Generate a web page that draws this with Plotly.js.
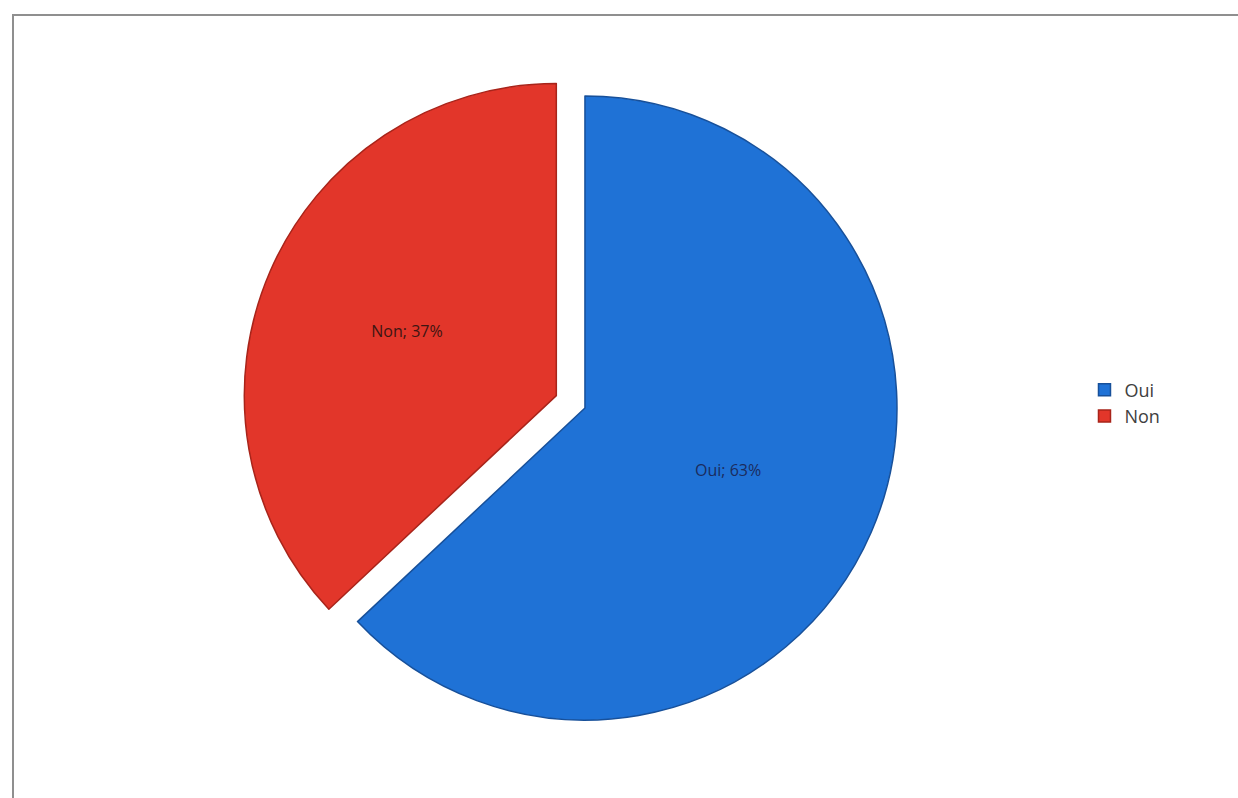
<!DOCTYPE html>
<html>
<head>
<meta charset="utf-8">
<script src="https://cdn.plot.ly/plotly-3.0.1.min.js"></script>
<style>
  html, body { margin: 0; padding: 0; background: #ffffff; overflow: hidden; }
  #frame { position: absolute; left: 12px; top: 14px; width: 1240px; height: 800px;
           border-left: 2px solid #8f8f8f; border-top: 2px solid #8f8f8f; }
  #chart { position: absolute; left: 0; top: 0; width: 1238px; height: 798px; }
</style>
</head>
<body>
<div id="frame"></div>
<div id="chart"></div>
<script>
// Data
const labels = ['Oui', 'Non'];
const values = [63, 37];
const texts = ['Oui; 63%', 'Non; 37%'];
const colors = ['#1f72d6', '#e2362a'];
const edgeColors = ['#17509a', '#a8241a'];
const pulls = [0, 0.1];
const textColors = ['#1b2c5e', '#3d1512'];

const trace = {
  type: 'pie',
  labels: labels,
  values: values,
  text: texts,
  textinfo: 'text',
  textposition: 'inside',
  insidetextorientation: 'horizontal',
  insidetextfont: { family: 'Open Sans, Liberation Sans, sans-serif', size: 16, color: textColors },
  sort: false,
  direction: 'clockwise',
  rotation: 0,
  pull: pulls,
  marker: { colors: colors, line: { color: edgeColors, width: 1.5 } },
  domain: { x: [0.1952, 0.7498], y: [0.0586, 0.9188] },
  hoverinfo: 'label+percent'
};

const layout = {
  width: 1238,
  height: 798,
  margin: { l: 0, r: 0, t: 0, b: 0, pad: 0 },
  paper_bgcolor: 'rgba(0,0,0,0)',
  plot_bgcolor: 'rgba(0,0,0,0)',
  showlegend: true,
  legend: {
    x: 0.876, y: 0.495, xanchor: 'left', yanchor: 'middle',
    font: { family: 'Open Sans, Liberation Sans, sans-serif', size: 18, color: '#404040' },
    bgcolor: 'rgba(0,0,0,0)',
    itemwidth: 30
  }
};

Plotly.newPlot('chart', [trace], layout, { displayModeBar: false, staticPlot: true });
</script>
</body>
</html>
